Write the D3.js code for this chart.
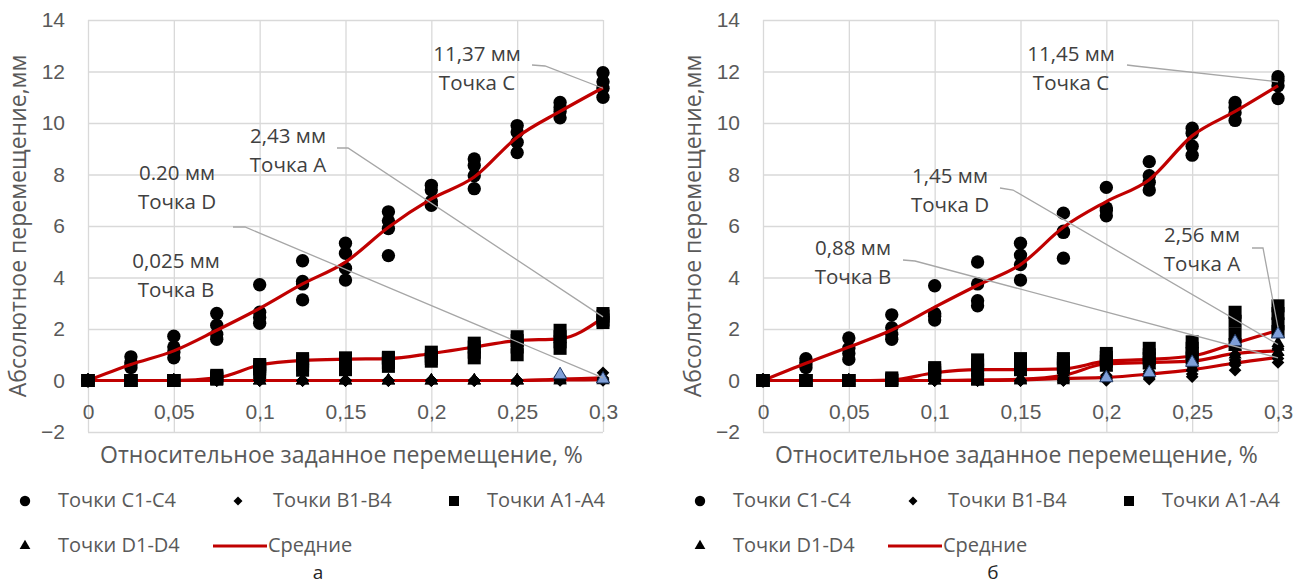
<!DOCTYPE html>
<html>
<head>
  <meta charset="utf-8">
  <script src="https://d3js.org/d3.v7.min.js"></script>
  <style>
    body { margin: 0; background: #fff; }
    svg { font-family: "Open Sans", sans-serif; }
    .tick text { fill: #595959; }
  </style>
</head>
<body>
<svg id="chart" width="1302" height="585"></svg>
<script>
// x positions (relative displacement, %) and axis ticks
const xVals = [0, 0.025, 0.05, 0.075, 0.1, 0.125, 0.15, 0.175, 0.2, 0.225, 0.25, 0.275, 0.3];
const xTicks = [0, 0.05, 0.1, 0.15, 0.2, 0.25, 0.3];
const yTicks = [-2, 0, 2, 4, 6, 8, 10, 12, 14];

// chart "а" - four readings per x for each point group
const leftC = [
  [0, 0, 0, 0], [0.92, 0.7, 0.6, 0.5], [1.72, 1.3, 1.1, 0.88], [2.6, 2.15, 1.8, 1.6],
  [3.72, 2.65, 2.45, 2.22], [4.65, 3.85, 3.75, 3.13], [5.33, 4.94, 4.36, 3.9],
  [6.55, 6.2, 5.9, 4.85], [7.58, 7.4, 6.95, 6.8], [8.6, 8.35, 7.95, 7.45],
  [9.9, 9.65, 9.25, 8.85], [10.8, 10.6, 10.45, 10.2], [11.95, 11.6, 11.35, 11.0]
];
const leftA = [
  [0, 0, 0, 0], [0, 0, 0, 0], [0, 0, 0, 0], [0.2, 0.15, 0.1, 0.05],
  [0.62, 0.55, 0.45, 0.3], [0.85, 0.75, 0.6, 0.4], [0.88, 0.8, 0.65, 0.42],
  [0.9, 0.85, 0.7, 0.55], [1.1, 0.95, 0.85, 0.75], [1.45, 1.3, 1.1, 0.88],
  [1.7, 1.55, 1.3, 1.0], [1.95, 1.7, 1.5, 1.25], [2.6, 2.5, 2.35, 2.25]
];
const leftB = [
  [0, 0, 0, 0], [0, 0, 0, 0], [0, 0, 0, 0], [0, 0, 0, 0], [0, 0, 0, 0], [0, 0, 0, 0],
  [0, 0, 0, 0], [0, 0, 0, 0], [0, 0, 0, 0], [0, 0, 0, 0], [0, 0, 0, 0],
  [0.15, 0.1, 0.05, 0], [0.3, 0.1, 0.05, 0]
];
const leftD = [
  [0, 0, 0, 0], [0, 0, 0, 0], [0, 0, 0, 0], [0, 0, 0, 0], [0, 0, 0, 0], [0, 0, 0, 0],
  [0, 0, 0, 0], [0, 0, 0, 0], [0, 0, 0, 0], [0, 0, 0, 0], [0, 0, 0, 0],
  [0.05, 0, 0, 0.22], [0.1, 0.05, 0, 0.05]
];
const leftMeanC = [0, 0.62, 1.15, 1.95, 2.8, 3.75, 4.6, 5.95, 7.05, 7.9, 9.45, 10.45, 11.37];
const leftMeanA = [0, 0, 0, 0.1, 0.6, 0.78, 0.83, 0.85, 1.05, 1.3, 1.55, 1.62, 2.43];
const leftMeanB = [0, 0, 0, 0, 0, 0, 0, 0, 0, 0, 0, 0.02, 0.03];
const leftMeanD = [0, 0, 0, 0, 0, 0, 0, 0, 0, 0, 0, 0.05, 0.1];

// chart "б"
const rightC = [
  [0, 0, 0, 0], [0.85, 0.7, 0.6, 0.5], [1.65, 1.25, 1.05, 0.82], [2.55, 2.05, 1.8, 1.6],
  [3.68, 2.6, 2.5, 2.35], [4.6, 3.75, 3.1, 2.9], [5.33, 4.87, 4.5, 3.9],
  [6.5, 5.8, 5.75, 4.75], [7.5, 6.7, 6.6, 6.4], [8.5, 7.95, 7.7, 7.4],
  [9.8, 9.6, 9.1, 8.75], [10.8, 10.6, 10.4, 10.1], [11.8, 11.65, 11.45, 10.95]
];
const rightA = [
  [0, 0, 0, 0], [0, 0, 0, 0], [0, 0, 0, 0], [0.1, 0.05, 0, 0],
  [0.5, 0.4, 0.3, 0.2], [0.8, 0.6, 0.4, 0.05], [0.85, 0.7, 0.55, 0.42],
  [0.85, 0.7, 0.6, 0.49], [1.05, 0.9, 0.75, 0.6], [1.25, 1.0, 0.85, 0.68],
  [1.5, 1.25, 1.05, 0.87], [2.65, 2.3, 1.8, 1.4], [2.9, 2.6, 2.2, 1.9]
];
const rightB = [
  [0, 0, 0, 0], [0, 0, 0, 0], [0, 0, 0, 0], [0, 0, 0, 0], [0, 0, 0, 0], [0, 0, 0, 0],
  [0, 0, 0, 0], [0.1, 0.05, 0, 0], [0.2, 0.1, 0.05, 0], [0.35, 0.2, 0.1, 0.05],
  [0.55, 0.4, 0.25, 0.15], [1.0, 0.8, 0.6, 0.4], [1.25, 1.0, 0.85, 0.7]
];
const rightD = [
  [0, 0, 0, 0], [0, 0, 0, 0], [0, 0, 0, 0], [0, 0, 0, 0], [0, 0, 0, 0], [0, 0, 0, 0],
  [0.1, 0.05, 0, 0], [0.3, 0.1, 0.05, 0], [0.75, 0.5, 0.2, 0.1], [0.85, 0.6, 0.4, 0.3],
  [0.95, 0.8, 0.5, 0.7], [1.3, 1.0, 0.8, 1.5], [1.45, 1.3, 1.1, 1.8]
];
const rightMeanC = [0, 0.67, 1.3, 1.96, 2.85, 3.7, 4.5, 5.95, 6.95, 7.8, 9.5, 10.45, 11.45];
const rightMeanA = [0, 0, 0, 0.02, 0.3, 0.42, 0.42, 0.45, 0.75, 0.82, 0.95, 1.45, 1.95];
const rightMeanD = [0, 0, 0, 0, 0, 0.02, 0.05, 0.2, 0.65, 0.7, 0.75, 1.05, 1.15];
const rightMeanB = [0, 0, 0, 0, 0, 0, 0.02, 0.08, 0.12, 0.25, 0.42, 0.68, 0.9];

const legendNames = ["Точки C1-C4", "Точки B1-B4", "Точки A1-A4", "Точки D1-D4", "Средние"];
const yTitle = "Абсолютное перемещение,мм";
const xTitle = "Относительное заданное перемещение, %";

const svg = d3.select("#chart");
const red = "#c00000";
const gridColor = "#d9d9d9";
const textColor = "#595959";
const annColor = "#404040";

const fmt = d => String(+d.toFixed(3)).replace(".", ",");

function drawChart(cfg) {
  const x = d3.scaleLinear().domain([0, 0.3]).range([cfg.left, cfg.left + 515]);
  const y = d3.scaleLinear().domain([-2, 14]).range([432, 20]);
  const g = svg.append("g");

  // horizontal grid + y labels
  const ya = g.append("g")
    .attr("transform", `translate(${x(0)},0)`)
    .call(d3.axisLeft(y).tickValues(yTicks).tickSize(-515).tickPadding(23).tickFormat(d3.format("d")));
  ya.select(".domain").remove();
  ya.selectAll("line").attr("stroke", gridColor).attr("stroke-width", 1.3);
  ya.selectAll("text").attr("font-size", 21).attr("fill", textColor);

  // vertical grid
  const xg = g.append("g")
    .attr("transform", `translate(0,${y(-2)})`)
    .call(d3.axisBottom(x).tickValues(xTicks).tickSize(-412).tickFormat(""));
  xg.select(".domain").remove();
  xg.selectAll("line").attr("stroke", gridColor).attr("stroke-width", 1.3);

  // x labels sit at the y=0 axis
  const xa = g.append("g")
    .attr("transform", `translate(0,${y(0)})`)
    .call(d3.axisBottom(x).tickValues(xTicks).tickSize(0).tickPadding(24).tickFormat(fmt));
  xa.select(".domain").attr("stroke", gridColor);
  xa.selectAll("text").attr("font-size", 21).attr("fill", textColor);

  // axis titles
  g.append("text")
    .attr("transform", `translate(${cfg.left - 62},${(y(14) + y(-2)) / 2}) rotate(-90)`)
    .attr("text-anchor", "middle")
    .attr("font-size", 23)
    .attr("fill", textColor)
    .text(yTitle);
  g.append("text")
    .attr("x", (x(0) + x(0.3)) / 2 - 4)
    .attr("y", 463)
    .attr("text-anchor", "middle")
    .attr("font-size", 23)
    .attr("fill", textColor)
    .text(xTitle);

  // markers
  const flat = arr => arr.flatMap((vals, i) => vals.map((v, k) => ({ x: xVals[i], v, k })));
  const line = d3.line().x((d, i) => x(xVals[i])).y(d => y(d)).curve(d3.curveMonotoneX);

  g.append("g").selectAll("path").data(flat(cfg.C)).join("path")
    .attr("d", d3.symbol(d3.symbolCircle, 140))
    .attr("transform", d => `translate(${x(d.x)},${y(d.v)})`)
    .attr("fill", "#000");

  g.append("g").selectAll("path").data(cfg.means).join("path")
    .attr("d", line)
    .attr("fill", "none")
    .attr("stroke", red)
    .attr("stroke-width", 3.2);

  g.append("g").selectAll("path").data(flat(cfg.A)).join("path")
    .attr("d", d3.symbol(d3.symbolSquare, 170))
    .attr("transform", d => `translate(${x(d.x)},${y(d.v)})`)
    .attr("fill", "#000");

  g.append("g").selectAll("path").data(flat(cfg.B)).join("path")
    .attr("d", d3.symbol(d3.symbolSquare, 80))
    .attr("transform", d => `translate(${x(d.x)},${y(d.v)}) rotate(45)`)
    .attr("fill", "#000");

  g.append("g").selectAll("path").data(flat(cfg.D)).join("path")
    .attr("d", d3.symbol(d3.symbolTriangle, 75))
    .attr("transform", d => `translate(${x(d.x)},${y(d.v)})`)
    .attr("fill", d => d.k === 3 && d.v > 0 ? "#7f9fd8" : "#000")
    .attr("stroke", d => d.k === 3 && d.v > 0 ? "#1f3864" : "none");

  // annotations with leader lines
  cfg.notes.forEach(n => {
    if (n.leader) {
      g.append("path")
        .attr("d", d3.line()([n.leader[0], n.leader[1], [x(0.3), y(n.target)]]))
        .attr("fill", "none")
        .attr("stroke", "#a6a6a6")
        .attr("stroke-width", 1.3);
    }
    const t = g.append("text")
      .attr("text-anchor", "middle")
      .attr("font-size", 20.5)
      .attr("fill", annColor);
    t.append("tspan").attr("x", n.cx).attr("y", n.by).text(n.lines[0]);
    t.append("tspan").attr("x", n.cx).attr("y", n.by + 29).text(n.lines[1]);
  });

  // legend
  const lx = cfg.legendX;
  const leg = g.append("g").attr("font-size", 20).attr("fill", textColor);
  const items = [
    { sym: d3.symbolCircle, size: 85, x: 25, y: 501, tx: 58 },
    { sym: d3.symbolSquare, size: 40, x: 238, y: 501, tx: 273, rot: 45 },
    { sym: d3.symbolSquare, size: 100, x: 454, y: 501, tx: 487 },
    { sym: d3.symbolTriangle, size: 50, x: 25, y: 546, tx: 58 }
  ];
  items.forEach((it, i) => {
    leg.append("path")
      .attr("d", d3.symbol(it.sym, it.size))
      .attr("transform", `translate(${lx + it.x},${it.y})${it.rot ? " rotate(45)" : ""}`)
      .attr("fill", "#000");
    leg.append("text").attr("x", lx + it.tx).attr("y", it.y + 6).text(legendNames[i]);
  });
  leg.append("line")
    .attr("x1", lx + 213).attr("x2", lx + 267)
    .attr("y1", 546).attr("y2", 546)
    .attr("stroke", red).attr("stroke-width", 3.2);
  leg.append("text").attr("x", lx + 268).attr("y", 552).text(legendNames[4]);

  g.append("text")
    .attr("x", lx + 318)
    .attr("y", 579)
    .attr("text-anchor", "middle")
    .attr("font-size", 19)
    .attr("fill", "#262626")
    .text(cfg.caption);
}

drawChart({
  left: 88, legendX: 0, caption: "а",
  C: leftC, A: leftA, B: leftB, D: leftD,
  means: [leftMeanC, leftMeanA, leftMeanB, leftMeanD],
  notes: [
    { lines: ["11,37 мм", "Точка C"], cx: 477, by: 61, leader: [[532, 65], [545, 66]], target: 11.35 },
    { lines: ["2,43 мм", "Точка А"], cx: 288, by: 143, leader: [[337, 148], [348, 148]], target: 2.47 },
    { lines: ["0.20 мм", "Точка D"], cx: 177, by: 180, leader: [[233, 227], [245, 227]], target: 0.1 },
    { lines: ["0,025 мм", "Точка B"], cx: 176, by: 268 }
  ]
});

drawChart({
  left: 763, legendX: 675, caption: "б",
  C: rightC, A: rightA, B: rightB, D: rightD,
  means: [rightMeanC, rightMeanA, rightMeanB, rightMeanD],
  notes: [
    { lines: ["11,45 мм", "Точка C"], cx: 1071, by: 61, leader: [[1127, 65], [1135, 66]], target: 11.6 },
    { lines: ["1,45 мм", "Точка D"], cx: 950, by: 183, leader: [[1000, 188], [1013, 190]], target: 1.4 },
    { lines: ["0,88 мм", "Точка B"], cx: 853, by: 255, leader: [[903, 260], [915, 261]], target: 0.88 },
    { lines: ["2,56 мм", "Точка А"], cx: 1202, by: 242, leader: [[1252, 248], [1263, 248]], target: 2.05 }
  ]
});
</script>
</body>
</html>
